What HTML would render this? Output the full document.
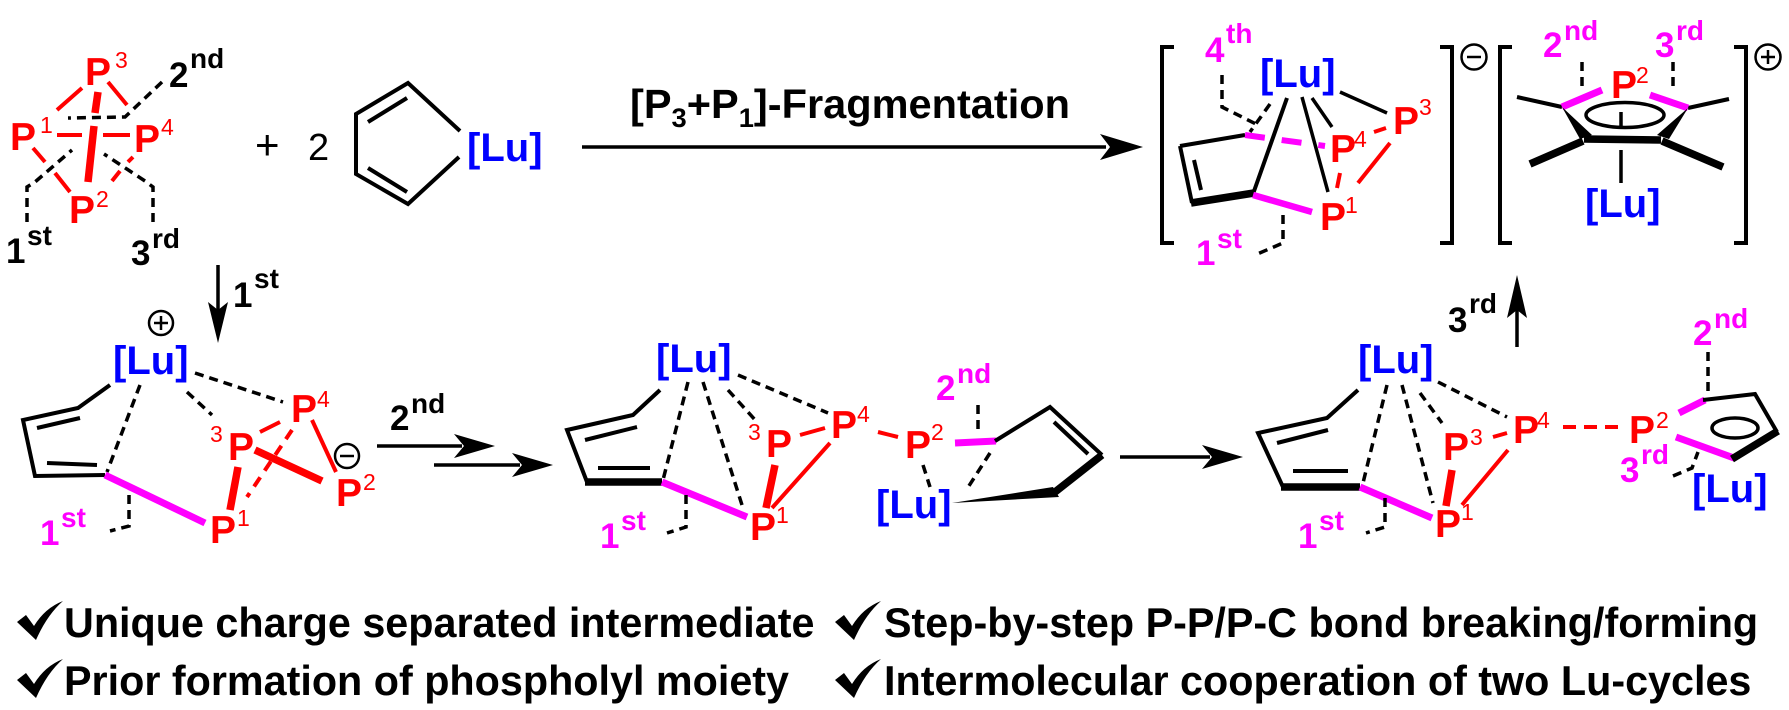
<!DOCTYPE html>
<html><head><meta charset="utf-8">
<style>
html,body{margin:0;padding:0;background:#fff;}
svg{display:block;}
text{font-family:"Liberation Sans",Arial,sans-serif;}
.P{font-size:39px;font-weight:bold;fill:#f00;}
.ps{font-size:23px;fill:#f00;}
.Lu{font-size:40px;font-weight:bold;fill:#00f;}
.o{font-size:35px;font-weight:bold;fill:#000;}
.os{font-size:28px;font-weight:bold;fill:#000;}
.m{fill:#f0f;}
.k{stroke:#000;stroke-width:4;fill:none;}
.kb{stroke:#000;stroke-width:7.5;fill:none;}
.kt{stroke:#000;stroke-width:3.5;fill:none;}
.kd{stroke:#000;stroke-width:3.5;fill:none;stroke-dasharray:9 6;}
.r{stroke:#f00;stroke-width:4;fill:none;}
.rd{stroke:#f00;stroke-width:4;fill:none;stroke-dasharray:11 8;}
.rt{stroke:#f00;stroke-width:7.5;fill:none;}
.mg{stroke:#f0f;stroke-width:7;fill:none;}
.bt{font-size:41.3px;font-weight:bold;fill:#000;}
.ch{stroke:#000;stroke-width:2.5;fill:none;}
</style></head><body>
<svg width="1789" height="710" viewBox="0 0 1789 710" xmlns="http://www.w3.org/2000/svg">
<rect width="1789" height="710" fill="#fff"/>

<!-- ===== P4 tetrahedron ===== -->
<line class="r" x1="82" y1="88" x2="57" y2="110"/>
<line class="r" x1="108" y1="82" x2="127" y2="105"/>
<line class="rt" x1="98" y1="92" x2="95" y2="113"/>
<line class="rt" x1="94" y1="126" x2="88" y2="182"/>
<line class="r" x1="57" y1="135" x2="82" y2="135"/>
<line class="r" x1="103" y1="135" x2="130" y2="135"/>
<line class="r" x1="33" y1="148" x2="45" y2="162"/>
<line class="r" x1="55" y1="173" x2="70" y2="192"/>
<line class="r" x1="133" y1="157" x2="128" y2="162"/>
<line class="r" x1="120" y1="171" x2="112" y2="181"/>
<polyline class="kd" points="162,82 125,117 68,118"/>
<polyline class="kd" points="27,222 27,187 35,182 72,150"/>
<polyline class="kd" points="153,222 153,187 145,181 104,154"/>
<text class="P" x="85" y="85">P</text><text class="ps" x="115" y="68">3</text>
<text class="P" x="10" y="150">P</text><text class="ps" x="40" y="133">1</text>
<text class="P" x="134" y="152">P</text><text class="ps" x="161" y="135">4</text>
<text class="P" x="69" y="223">P</text><text class="ps" x="96" y="207">2</text>
<text class="o" x="169" y="87">2</text><text class="os" x="190" y="68">nd</text>
<text class="o" x="6" y="263">1</text><text class="os" x="27" y="245">st</text>
<text class="o" x="131" y="265">3</text><text class="os" x="152" y="248">rd</text>

<!-- ===== + 2 Lu-diene ===== -->
<text x="255" y="159" style="font-size:42px;fill:#000">+</text>
<text x="308" y="160" style="font-size:38px;fill:#000">2</text>
<polyline class="k" points="460,131 408,83 356,114 356,174 408,204 459,157"/>
<line class="k" x1="368" y1="122" x2="407" y2="98"/>
<line class="k" x1="368" y1="168" x2="407" y2="192"/>
<text class="Lu" x="467" y="161">[Lu]</text>

<!-- ===== top arrow ===== -->
<line class="kt" x1="582" y1="147" x2="1106" y2="147"/>
<polygon points="1143,147 1100,134 1110,147 1100,160" fill="#000"/>
<text x="630" y="118" textLength="440" lengthAdjust="spacingAndGlyphs" style="font-size:41px;font-weight:bold;fill:#000">[P<tspan dy="9" style="font-size:27px">3</tspan><tspan dy="-9">+P</tspan><tspan dy="9" style="font-size:27px">1</tspan><tspan dy="-9">]-Fragmentation</tspan></text>

<!-- ===== product anion ===== -->
<path class="k" d="M1174,47 H1162 V243 H1174"/>
<path class="k" d="M1440,47 H1452 V243 H1440"/>
<g class="ch"><circle cx="1474" cy="57" r="12.5"/><line x1="1467" y1="57" x2="1481" y2="57"/></g>
<line class="k" x1="1245" y1="135" x2="1180" y2="146"/>
<line class="k" x1="1180" y1="146" x2="1192" y2="203"/>
<line class="k" x1="1194" y1="160" x2="1201" y2="190"/>
<line class="kb" x1="1191" y1="203" x2="1254" y2="193"/>
<line class="k" x1="1253" y1="194" x2="1287" y2="98"/>
<line class="mg" x1="1245" y1="135" x2="1325" y2="146" style="stroke-width:6;stroke-dasharray:20 17"/>
<line class="mg" x1="1253" y1="195" x2="1312" y2="212" style="stroke-width:6.5"/>
<line class="kt" x1="1302" y1="97" x2="1328" y2="192"/>
<line class="kt" x1="1312" y1="98" x2="1332" y2="127"/>
<line class="kt" x1="1340" y1="92" x2="1387" y2="113"/>
<line class="r" x1="1374" y1="132" x2="1386" y2="128"/>
<line class="r" x1="1358" y1="183" x2="1390" y2="143"/>
<line class="r" x1="1340" y1="173" x2="1337" y2="188"/>
<polyline class="kd" points="1222,75 1222,107 1258,125"/>
<line class="kd" x1="1270" y1="104" x2="1250" y2="132"/>
<polyline class="kd" points="1283,215 1283,243 1255,255"/>
<text class="Lu" x="1260" y="87">[Lu]</text>
<text class="P" x="1330" y="162">P</text><text class="ps" x="1354" y="147">4</text>
<text class="P" x="1320" y="230">P</text><text class="ps" x="1345" y="213">1</text>
<text class="P" x="1393" y="134">P</text><text class="ps" x="1419" y="115">3</text>
<text class="o m" x="1205" y="62">4</text><text class="os m" x="1226" y="43">th</text>
<text class="o m" x="1196" y="265">1</text><text class="os m" x="1217" y="248">st</text>

<!-- ===== product cation ===== -->
<path class="k" d="M1512,47 H1500 V243 H1512"/>
<path class="k" d="M1734,47 H1746 V243 H1734"/>
<g class="ch"><circle cx="1768" cy="57" r="12.5"/><line x1="1761" y1="57" x2="1775" y2="57"/><line x1="1768" y1="50" x2="1768" y2="64"/></g>
<line class="k" x1="1562" y1="107" x2="1517" y2="97"/>
<line class="k" x1="1688" y1="108" x2="1729" y2="99"/>
<line class="mg" x1="1562" y1="107" x2="1602" y2="90"/>
<line class="mg" x1="1650" y1="95" x2="1688" y2="108"/>
<polygon points="1562,107 1580,139 1592,135" fill="#000"/>
<polygon points="1688,108 1657,135 1669,139" fill="#000"/>
<line class="kb" x1="1584" y1="139" x2="1661" y2="140"/>
<line class="kb" x1="1583" y1="141" x2="1530" y2="164"/>
<line class="kb" x1="1662" y1="141" x2="1723" y2="167"/>
<ellipse cx="1625" cy="115" rx="39" ry="12.5" class="kt"/>
<line class="kt" x1="1621" y1="112" x2="1621" y2="127"/>
<line class="kt" x1="1621" y1="150" x2="1621" y2="183"/>
<line class="kd" x1="1582" y1="62" x2="1582" y2="88"/>
<line class="kd" x1="1673" y1="62" x2="1673" y2="90"/>
<text class="P" x="1611" y="98">P</text><text class="ps" x="1636" y="83">2</text>
<text class="Lu" x="1585" y="217">[Lu]</text>
<text class="o m" x="1543" y="57">2</text><text class="os m" x="1564" y="40">nd</text>
<text class="o m" x="1655" y="57">3</text><text class="os m" x="1676" y="40">rd</text>

<!-- ===== 1st down arrow ===== -->
<line class="kt" x1="218" y1="265" x2="218" y2="312"/>
<polygon points="218,343 208,302 218,310 228,302" fill="#000"/>
<text class="o" x="233" y="307">1</text><text class="os" x="254" y="288">st</text>

<!-- ===== intermediate 1 ===== -->
<polyline class="k" points="110,385 78,408 23,420 35,476 105,475"/>
<line class="k" x1="80" y1="418" x2="37" y2="428"/>
<line class="k" x1="47" y1="463" x2="97" y2="465"/>
<line class="kd" x1="140" y1="385" x2="107" y2="472"/>
<line class="kd" x1="187" y1="392" x2="212" y2="415"/>
<line class="kd" x1="195" y1="373" x2="283" y2="402"/>
<line class="mg" x1="105" y1="475" x2="205" y2="523"/>
<polyline class="kd" points="129,495 129,526 110,531"/>
<line class="r" x1="260" y1="432" x2="280" y2="422"/>
<line class="rd" x1="292" y1="430" x2="247" y2="497"/>
<line class="r" x1="312" y1="420" x2="336" y2="472"/>
<line class="rt" x1="255" y1="450" x2="322" y2="481"/>
<line class="rt" x1="238" y1="467" x2="230" y2="510"/>
<g class="ch"><circle cx="161" cy="323" r="12"/><line x1="154" y1="323" x2="168" y2="323"/><line x1="161" y1="316" x2="161" y2="330"/></g>
<g class="ch"><circle cx="347" cy="456" r="12"/><line x1="340" y1="456" x2="354" y2="456"/></g>
<text class="Lu" x="113" y="374">[Lu]</text>
<text class="P" x="291" y="422">P</text><text class="ps" x="317" y="407">4</text>
<text class="ps" x="210" y="442">3</text><text class="P" x="228" y="460">P</text>
<text class="P" x="336" y="506">P</text><text class="ps" x="363" y="490">2</text>
<text class="P" x="210" y="543">P</text><text class="ps" x="237" y="526">1</text>
<text class="o m" x="40" y="545">1</text><text class="os m" x="61" y="527">st</text>

<!-- ===== 2nd arrows ===== -->
<line class="kt" x1="377" y1="446" x2="462" y2="446"/>
<polygon points="495,446 454,434 464,446 454,458" fill="#000"/>
<line class="kt" x1="434" y1="465" x2="520" y2="465"/>
<polygon points="553,465 512,453 522,465 512,477" fill="#000"/>
<text class="o" x="390" y="430">2</text><text class="os" x="411" y="413">nd</text>

<!-- ===== intermediate 2 ===== -->
<polyline class="k" points="660,390 633,415 567,430 587,482"/>
<line class="k" x1="585" y1="440" x2="637" y2="427"/>
<line class="kb" x1="585" y1="482" x2="662" y2="482"/>
<line class="k" x1="598" y1="468" x2="650" y2="468"/>
<line class="kd" x1="688" y1="382" x2="663" y2="480"/>
<line class="kd" x1="703" y1="382" x2="742" y2="505"/>
<line class="kd" x1="728" y1="390" x2="757" y2="422"/>
<line class="kd" x1="738" y1="375" x2="828" y2="413"/>
<line class="r" x1="800" y1="435" x2="825" y2="428"/>
<line class="r" x1="878" y1="432" x2="898" y2="437"/>
<line class="r" x1="830" y1="443" x2="772" y2="508"/>
<line class="rt" x1="775" y1="465" x2="766" y2="508"/>
<line class="mg" x1="662" y1="482" x2="747" y2="517"/>
<polyline class="kd" points="686,495 686,527 667,533"/>
<line class="mg" x1="955" y1="443" x2="996" y2="441"/>
<line class="kd" x1="978" y1="405" x2="978" y2="432"/>
<line class="kd" x1="923" y1="465" x2="930" y2="487"/>
<line class="kd" x1="990" y1="453" x2="967" y2="489"/>
<polyline class="k" points="995,441 1050,407 1102,455"/>
<line class="k" x1="1054" y1="422" x2="1088" y2="454"/>
<line class="kb" x1="1102" y1="455" x2="1055" y2="492"/>
<polygon points="952,503 1053,487 1059,497" fill="#000"/>
<text class="Lu" x="656" y="372">[Lu]</text>
<text class="ps" x="748" y="440">3</text><text class="P" x="766" y="457">P</text>
<text class="P" x="831" y="438">P</text><text class="ps" x="857" y="422">4</text>
<text class="P" x="905" y="458">P</text><text class="ps" x="931" y="440">2</text>
<text class="P" x="750" y="540">P</text><text class="ps" x="776" y="523">1</text>
<text class="Lu" x="876" y="518">[Lu]</text>
<text class="o m" x="600" y="548">1</text><text class="os m" x="621" y="530">st</text>
<text class="o m" x="936" y="400">2</text><text class="os m" x="957" y="383">nd</text>

<!-- ===== arrow to int 3 ===== -->
<line class="kt" x1="1120" y1="457" x2="1210" y2="457"/>
<polygon points="1243,457 1202,445 1212,457 1202,469" fill="#000"/>

<!-- ===== 3rd up arrow ===== -->
<line class="kt" x1="1517" y1="347" x2="1517" y2="305"/>
<polygon points="1517,275 1507,318 1517,310 1527,318" fill="#000"/>
<text class="o" x="1448" y="332">3</text><text class="os" x="1469" y="313">rd</text>

<!-- ===== intermediate 3 ===== -->
<polyline class="k" points="1358,390 1327,418 1258,433 1283,487"/>
<line class="k" x1="1277" y1="443" x2="1328" y2="430"/>
<line class="kb" x1="1281" y1="487" x2="1360" y2="487"/>
<line class="k" x1="1293" y1="471" x2="1348" y2="471"/>
<line class="kd" x1="1387" y1="385" x2="1363" y2="483"/>
<line class="kd" x1="1402" y1="385" x2="1433" y2="503"/>
<line class="kd" x1="1420" y1="393" x2="1442" y2="423"/>
<line class="kd" x1="1438" y1="382" x2="1507" y2="417"/>
<line class="r" x1="1493" y1="437" x2="1507" y2="433"/>
<line class="r" x1="1508" y1="450" x2="1462" y2="505"/>
<line class="rt" x1="1452" y1="470" x2="1446" y2="506"/>
<line class="rd" x1="1563" y1="427" x2="1625" y2="427" style="stroke-dasharray:13 8"/>
<line class="mg" x1="1360" y1="487" x2="1432" y2="518"/>
<polyline class="kd" points="1385,498 1385,527 1366,533"/>
<line class="mg" x1="1679" y1="413" x2="1705" y2="400"/>
<line class="mg" x1="1676" y1="437" x2="1734" y2="458"/>
<line class="kd" x1="1708" y1="352" x2="1708" y2="394"/>
<polyline class="kd" points="1673,476 1692,468 1698,452"/>
<polyline class="k" points="1703,400 1755,394 1777,432"/>
<line class="kb" x1="1778" y1="431" x2="1732" y2="459"/>
<ellipse cx="1735" cy="428" rx="23" ry="10" class="kt"/>
<text class="Lu" x="1358" y="373">[Lu]</text>
<text class="P" x="1443" y="460">P</text><text class="ps" x="1470" y="445">3</text>
<text class="P" x="1513" y="443">P</text><text class="ps" x="1537" y="428">4</text>
<text class="P" x="1629" y="443">P</text><text class="ps" x="1656" y="428">2</text>
<text class="P" x="1435" y="537">P</text><text class="ps" x="1461" y="520">1</text>
<text class="Lu" x="1692" y="502">[Lu]</text>
<text class="o m" x="1298" y="548">1</text><text class="os m" x="1319" y="530">st</text>
<text class="o m" x="1693" y="345">2</text><text class="os m" x="1714" y="328">nd</text>
<text class="o m" x="1620" y="482">3</text><text class="os m" x="1641" y="464">rd</text>

<!-- ===== bottom bullet text ===== -->
<path d="M17,622 L26,615 L34,626 Q45,608 63,601 Q47,615 36,640 Z" fill="#000"/>
<text class="bt" x="64" y="637">Unique charge separated intermediate</text>
<path d="M835,622 L844,615 L852,626 Q863,608 881,601 Q865,615 854,640 Z" fill="#000"/>
<text class="bt" x="884" y="637">Step-by-step P-P/P-C bond breaking/forming</text>
<path d="M17,680 L26,673 L34,684 Q45,666 63,659 Q47,673 36,698 Z" fill="#000"/>
<text class="bt" x="64" y="695">Prior formation of phospholyl moiety</text>
<path d="M835,680 L844,673 L852,684 Q863,666 881,659 Q865,673 854,698 Z" fill="#000"/>
<text class="bt" x="884" y="695">Intermolecular cooperation of two Lu-cycles</text>
</svg>
</body></html>
